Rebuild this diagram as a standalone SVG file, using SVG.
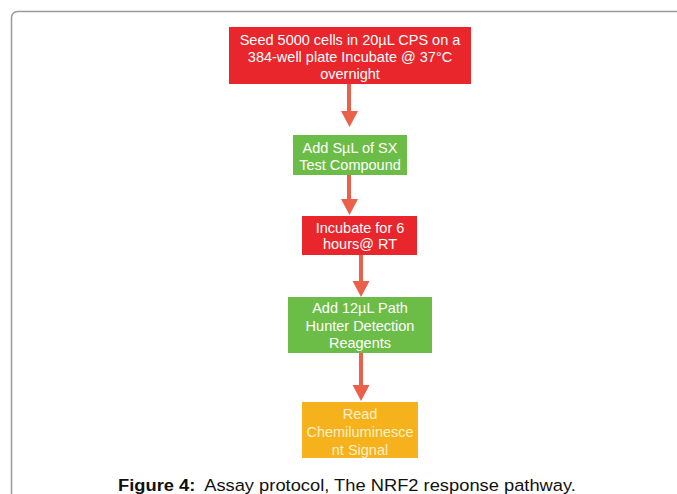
<svg xmlns="http://www.w3.org/2000/svg" width="677" height="494" viewBox="0 0 677 494">
<defs>
<style>
.frame{fill:#fff;stroke:#9a9a9a;stroke-width:1.5}
.red{fill:#e8262b}
.green{fill:#6cbd47}
.orange{fill:#f5b21d}
.t{font-family:"Liberation Sans",Arial,sans-serif;font-size:14.5px;fill:#fff;text-anchor:middle}
.t2{fill:#fdf0c8}
.conn{stroke:#e9604b;stroke-width:4;fill:none}
.head{fill:#e9604b}
.cap{font-family:"Liberation Sans",Arial,sans-serif;font-size:16.5px;fill:#111}
</style>
</defs>
<rect width="677" height="494" fill="#fff"/>
<rect class="frame" x="11.5" y="11.5" width="700" height="520" rx="6"/>
<g id="connectors">
<line class="conn" x1="349" y1="84" x2="349" y2="112"/>
<polygon class="head" points="341,111 358,111 349.5,127"/>
<line class="conn" x1="349" y1="175" x2="349" y2="200"/>
<polygon class="head" points="341,199 358,199 349.5,215"/>
<line class="conn" x1="361" y1="255" x2="361" y2="282"/>
<polygon class="head" points="352.5,281 369.5,281 361,297"/>
<line class="conn" x1="361" y1="353" x2="361" y2="386"/>
<polygon class="head" points="352.5,385 369.5,385 361,401"/>
</g>
<g id="node1">
<rect class="red" x="229" y="27" width="242" height="57"/>
<text class="t" x="350" y="45">Seed 5000 cells in 20µL CPS on a</text>
<text class="t" x="350" y="62">384-well plate Incubate @ 37°C</text>
<text class="t" x="350" y="79">overnight</text>
</g>
<g id="node2">
<rect class="green" x="293" y="135" width="114" height="40"/>
<text class="t" x="350" y="153">Add SµL of SX</text>
<text class="t" x="350" y="170">Test Compound</text>
</g>
<g id="node3">
<rect class="red" x="302" y="216" width="115" height="39"/>
<text class="t" x="360" y="233">Incubate for 6</text>
<text class="t" x="360" y="249">hours@ RT</text>
</g>
<g id="node4">
<rect class="green" x="288" y="297" width="144" height="56"/>
<text class="t" x="360" y="313">Add 12µL Path</text>
<text class="t" x="360" y="331">Hunter Detection</text>
<text class="t" x="360" y="348">Reagents</text>
</g>
<g id="node5">
<rect class="orange" x="302" y="402" width="116" height="56"/>
<text class="t t2" x="360" y="419">Read</text>
<text class="t t2" x="360" y="437">Chemiluminesce</text>
<text class="t t2" x="360" y="455">nt Signal</text>
</g>
<text class="cap" transform="translate(118,491) scale(1.11,1)"><tspan font-weight="bold">Figure 4:</tspan><tspan dx="8">Assay protocol, The NRF2 response pathway.</tspan></text>
</svg>
